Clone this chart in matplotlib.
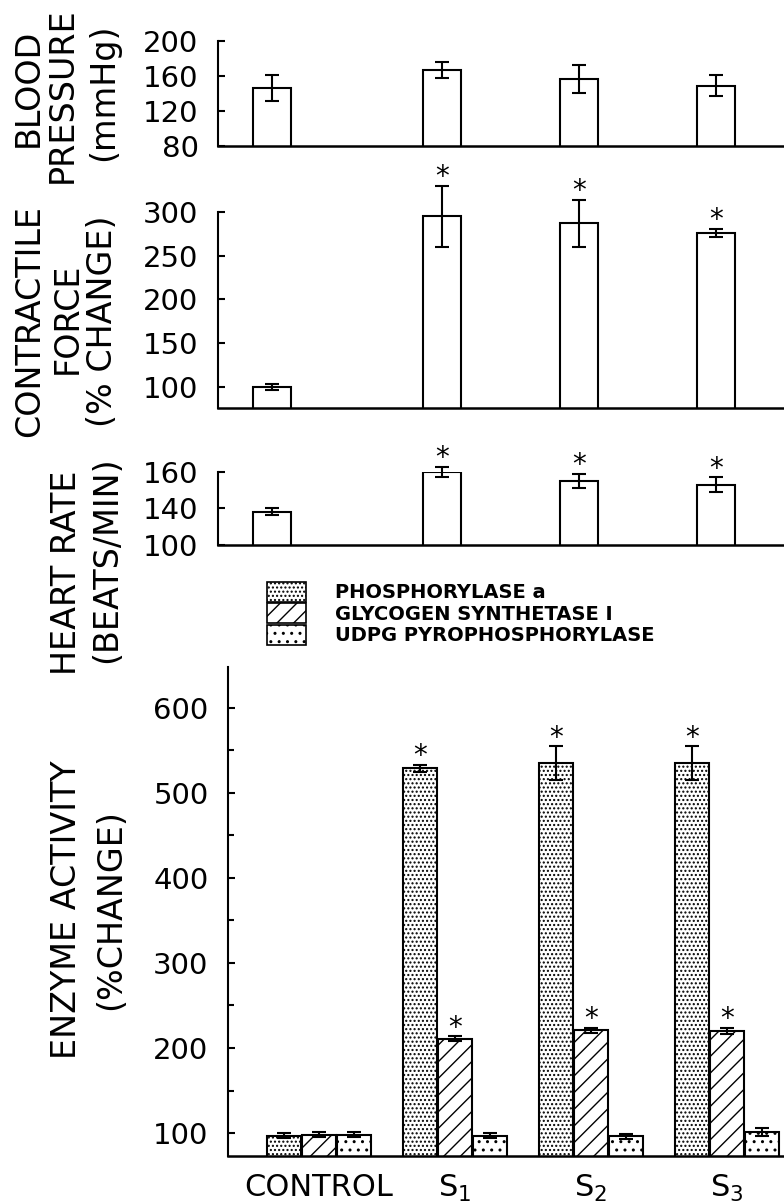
import matplotlib
matplotlib.use('Agg')
import matplotlib.pyplot as plt
import numpy as np
from matplotlib.patches import Patch
from matplotlib.ticker import MultipleLocator

plt.rcParams['font.family'] = ['DejaVu Sans']
plt.rcParams['hatch.linewidth'] = 1.0

# --- data ---
groups = ['CONTROL', r'$\mathrm{S}_1$', r'$\mathrm{S}_2$', r'$\mathrm{S}_3$']

bp = [146, 167, 157, 149]          # blood pressure, mmHg
bp_err = [15, 9, 16, 12]

cf = [100, 295, 287, 276]          # contractile force, % change
cf_err = [3, 35, 27, 5]
cf_sig = [False, True, True, True]

hr = [138, 160, 155, 153]          # heart rate, beats/min
hr_err = [2, 3, 4, 4]
hr_sig = [False, True, True, True]

enz_names = ['PHOSPHORYLASE a', 'GLYCOGEN SYNTHETASE I', 'UDPG PYROPHOSPHORYLASE']
phos = [97, 529, 535, 535]
phos_err = [3, 4, 20, 20]
phos_sig = [False, True, True, True]
glyc = [98, 211, 221, 220]
glyc_err = [3, 3, 3, 4]
glyc_sig = [False, True, True, True]
udpg = [98, 97, 96, 101]
udpg_err = [3, 3, 3, 5]
udpg_sig = [False, False, False, False]

# --- layout ---
W, H = 784, 1204
fig = plt.figure(figsize=(W / 100, H / 100), dpi=100)

def box(l, t, r, b):
    return [l / W, 1 - b / H, (r - l) / W, (b - t) / H]

top_pos = np.array([0, 1.24, 2.24, 3.24])
top_xlim = (-(272 - 218) / 137, (784 - 272) / 137)


def style(ax, lo, hi, ticks):
    ax.set_ylim(lo, hi)
    ax.set_yticks(ticks)
    for s in ['top', 'right']:
        ax.spines[s].set_visible(False)
    ax.spines['left'].set_linewidth(1.5)
    ax.spines['bottom'].set_linewidth(1.8)
    ax.tick_params(axis='y', direction='in', length=5, width=1.5, pad=14, labelsize=21)
    ax.tick_params(axis='y', which='minor', direction='in', length=4, width=1.5)
    ax.patch.set_alpha(0)


def stars(ax, xs, vals, errs, sig):
    for x, v, e, s in zip(xs, vals, errs, sig):
        if s:
            ax.annotate('*', (x, v + e), xytext=(0, 6), textcoords='offset points',
                        ha='center', va='center', fontsize=20, annotation_clip=False)


def bars(ax, xs, vals, errs, width, hatch=None):
    ax.bar(xs, vals, width=width, color='white', edgecolor='black',
           linewidth=1.5, hatch=hatch)
    c = ax.errorbar(xs, vals, yerr=errs, fmt='none', ecolor='black',
                    elinewidth=1.5, capsize=5, capthick=1.5)
    for a in list(c.lines[1]) + list(c.lines[2]):
        a.set_clip_on(False)


# blood pressure
ax1 = fig.add_axes(box(218, 41, 784, 146))
bars(ax1, top_pos, bp, bp_err, 0.28)
style(ax1, 80, 200, [80, 120, 160, 200])
ax1.set_xlim(*top_xlim)
ax1.set_xticks([])

# contractile force
ax2 = fig.add_axes(box(218, 212, 784, 408))
bars(ax2, top_pos, cf, cf_err, 0.28)
stars(ax2, top_pos, cf, cf_err, cf_sig)
style(ax2, 76, 300, [100, 150, 200, 250, 300])
ax2.set_xlim(*top_xlim)
ax2.set_xticks([])

# heart rate -- broken axis: 100..120 squeezed into the baseline
def hr_fwd(y):
    y = np.asarray(y, dtype=float)
    return np.where(y >= 120, y, 120 - (120 - y) * 0.03)

def hr_inv(y):
    y = np.asarray(y, dtype=float)
    return np.where(y >= 120, y, 120 - (120 - y) / 0.03)

ax3 = fig.add_axes(box(218, 472, 784, 545))
ax3.set_yscale('function', functions=(hr_fwd, hr_inv))
bars(ax3, top_pos, hr, hr_err, 0.28)
stars(ax3, top_pos, hr, hr_err, hr_sig)
style(ax3, 100, 160, [100, 140, 160])
ax3.set_yticklabels(['100', '140', '160'])
ax3.yaxis.set_minor_locator(matplotlib.ticker.NullLocator())
ax3.set_xlim(*top_xlim)
ax3.set_xticks([])

# enzyme activity
ax4 = fig.add_axes(box(228, 667, 784, 1156))
gx = np.arange(len(groups))
bw = 0.25
hatches = ['....', '//', '..']
for k, (vals, errs, sig) in enumerate([(phos, phos_err, phos_sig),
                                       (glyc, glyc_err, glyc_sig),
                                       (udpg, udpg_err, udpg_sig)]):
    xs = gx + (k - 1) * 0.26
    bars(ax4, xs, vals, errs, bw, hatch=hatches[k])
    stars(ax4, xs, vals, errs, sig)
style(ax4, 73, 648, [100, 200, 300, 400, 500, 600])
ax4.yaxis.set_minor_locator(MultipleLocator(50))
ax4.set_xlim(-0.669, 3.419)
ax4.set_xticks(gx)
ax4.set_xticklabels(groups, fontsize=22)
ax4.tick_params(axis='x', length=0, pad=12)

handles = [Patch(facecolor='white', edgecolor='black', hatch=h, linewidth=1.2) for h in hatches]
fig.legend(handles, enz_names, loc='upper left', bbox_to_anchor=(257 / W, 1 - 572 / H),
           frameon=False, borderpad=0, labelspacing=0.05, handlelength=2.0, handleheight=1.2,
           handletextpad=1.5, prop={'weight': 'bold', 'size': 14})

# rotated axis titles
ylabels = [
    (28, 88, 'BLOOD'), (62, 95, 'PRESSURE'), (104, 92, '(mmHg)'),
    (30, 321, 'CONTRACTILE'), (67, 318, 'FORCE'), (102, 321, '(% CHANGE)'),
    (66, 573, 'HEART RATE'), (107, 560, '(BEATS/MIN)'),
    (67, 910, 'ENZYME ACTIVITY'), (111, 910, '(%CHANGE)'),
]
for x, y, t in ylabels:
    fig.text(x / W, 1 - y / H, t, rotation=90, ha='center', va='center', fontsize=24)

fig.savefig('out.png', dpi=100)
